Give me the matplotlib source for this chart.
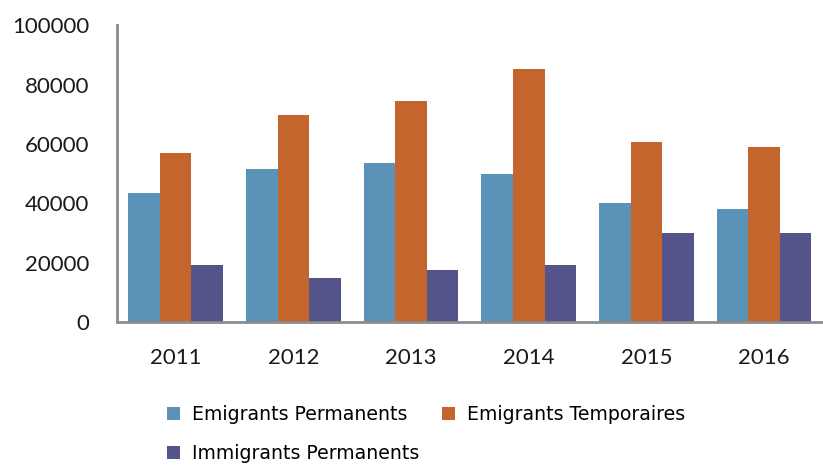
import matplotlib.pyplot as plt
import numpy as np

years = ['2011', '2012', '2013', '2014', '2015', '2016']
emig_perm = [43600, 51700, 53500, 49900, 40000, 38100]
emig_temp = [57100, 69800, 74300, 85200, 60800, 59000]
immig_perm = [19200, 14700, 17400, 19200, 30000, 30000]

series_names = ['Emigrants Permanents', 'Emigrants Temporaires', 'Immigrants Permanents']
colors = ['#5B93B8', '#C4652E', '#55548A']

plt.rcParams['font.family'] = ['Lato', 'DejaVu Sans']

fig = plt.figure(figsize=(8.23, 4.66), dpi=100)
ax = fig.add_axes([0.142, 0.309, 0.858, 0.637])

x = np.arange(len(years))
w = 0.268
bars = []
for i, (vals, c) in enumerate(zip([emig_perm, emig_temp, immig_perm], colors)):
    b = ax.bar(x + (i - 1) * w, vals, width=w, color=c, label=series_names[i])
    bars.append(b)

ax.set_xlim(-0.5, len(years) - 0.5)
ax.set_ylim(0, 100000)
ax.set_yticks(range(0, 100001, 20000))
ax.set_xticks(x)
ax.set_xticklabels(years)
ax.tick_params(axis='both', length=0, labelsize=16, colors='#1a1a1a')
ax.tick_params(axis='y', pad=20)
ax.tick_params(axis='x', pad=19)
for s in ['top', 'right']:
    ax.spines[s].set_visible(False)
for s in ['left', 'bottom']:
    ax.spines[s].set_color('#8c8c8c')
    ax.spines[s].set_linewidth(2)

# ordre ligne par ligne pour la légende à 2 colonnes
handles = [bars[0], bars[2], bars[1]]
labels = [series_names[0], series_names[2], series_names[1]]
fig.legend(handles, labels, ncol=2, loc='upper left',
           bbox_to_anchor=(0.203, 0.131), frameon=False,
           prop={'family': 'DejaVu Sans', 'size': 13.6},
           handlelength=0.7, handleheight=0.7, handletextpad=0.62,
           columnspacing=1.2, labelspacing=1.05, borderaxespad=0, borderpad=0)

fig.savefig('out.png', dpi=100)
